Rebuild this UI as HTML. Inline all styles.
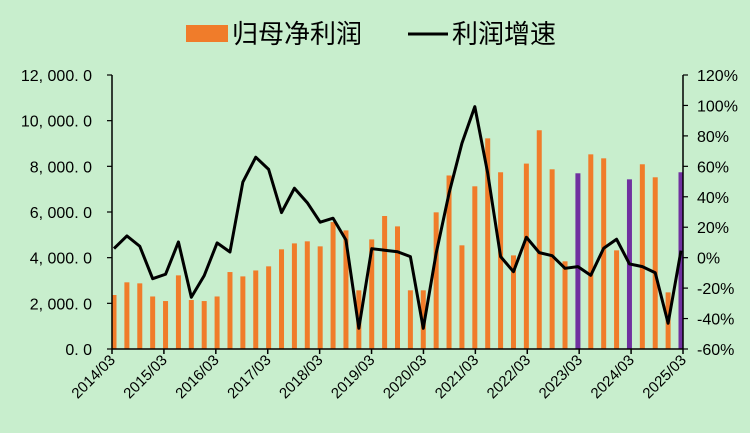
<!DOCTYPE html>
<html><head><meta charset="utf-8"><style>
body{margin:0;background:#c8eecd;}
svg{display:block;font-family:"Liberation Sans","Noto Sans CJK SC",sans-serif;}
</style></head><body>
<svg id="chart" width="750" height="433">
<rect width="750" height="433" fill="#c8eecd"/>
<g>
<rect x="186" y="25" width="42" height="17" fill="#f07c2a"/>
<text x="232" y="43" font-size="26">归母净利润</text>
<line x1="408" y1="34" x2="448" y2="34" stroke="#000" stroke-width="3"/>
<text x="452" y="43" font-size="26">利润增速</text>
</g>
<g id="bars"></g>
<g id="axes"></g>
<g id="line"></g>
</svg>
<script>
const profit=[2365,2920,2875,2300,2100,3225,2145,2100,2300,3370,3180,3440,3620,4365,4625,4715,4495,5560,5195,2570,4800,5825,5370,2570,2570,5985,7600,4540,7125,9225,7740,4100,8120,9580,7870,3840,7695,8525,8350,4320,7430,8090,7520,2480,7740];
const growth=[6,14.3,7.5,-13.8,-10.9,10.3,-26,-11.8,9.7,3.7,49.7,66,58,29.6,45.6,36.1,23.3,25.9,11.6,-46.4,5.9,4.9,3.9,0.7,-46.4,2.9,42.3,75.2,99.2,55.5,0.7,-9.2,13.4,3.3,1.3,-7,-5.9,-11.6,6.2,12.1,-4.1,-5.9,-9.9,-43.1,4.6];
const highlighted=[36,40,44];
const xLabels=["2014/03","2015/03","2016/03","2017/03","2018/03","2019/03","2020/03","2021/03","2022/03","2023/03","2024/03","2025/03"];
const leftTicks=["0. 0","2, 000. 0","4, 000. 0","6, 000. 0","8, 000. 0","10, 000. 0","12, 000. 0"];
const rightTicks=["-60%","-40%","-20%","0%","20%","40%","60%","80%","100%","120%"];
const NS="http://www.w3.org/2000/svg";
const X0=112,X1=681,YT=75,YB=349;
const step=(X1-114)/(profit.length-1);
const xq=i=>114+i*step;
const yL=v=>YB-(v/12000)*(YB-YT);
const yR=p=>YB-((p+60)/180)*(YB-YT);
function mk(tag,attrs,parent){const e=document.createElementNS(NS,tag);for(const k in attrs)e.setAttribute(k,attrs[k]);parent.appendChild(e);return e;}
const gb=document.getElementById('bars'),ga=document.getElementById('axes'),gl=document.getElementById('line');
profit.forEach((v,i)=>{
 const r=mk('rect',{x:xq(i)-2.5,y:yL(v),width:5,height:YB-yL(v),fill:highlighted.includes(i)?'#7030a0':'#f07c2a'},gb);
 
 
});
let a=mk('line',{x1:X0,y1:YT,x2:X0,y2:YB,stroke:'#000','stroke-width':1.5},ga);


a=mk('line',{x1:683,y1:YT,x2:683,y2:YB,stroke:'#000','stroke-width':1.5},ga);


a=mk('line',{x1:X0,y1:YB,x2:683,y2:YB,stroke:'#000','stroke-width':1.5},ga);


leftTicks.forEach((t,i)=>{
 const y=YB-i*(YB-YT)/6;
 mk('line',{x1:X0-5,y1:y,x2:X0,y2:y,stroke:'#000','stroke-width':1.2},ga);
 const tx=mk('text',{x:92,y:y+6,'font-size':16,'text-anchor':'end'},ga);
 tx.textContent=t;
 
 
});
rightTicks.forEach((t,i)=>{
 const y=yR(-60+i*20);
 mk('line',{x1:683,y1:y,x2:688,y2:y,stroke:'#000','stroke-width':1.2},ga);
 const tx=mk('text',{x:697,y:y+6,'font-size':16},ga);
 tx.textContent=t;
 
 
});
xLabels.forEach((t,i)=>{
 const x=X0+i*(683-X0)/11;
 mk('line',{x1:x,y1:YB,x2:x,y2:YB+5,stroke:'#000','stroke-width':1.5},ga);
 const tx=mk('text',{x:x+4,y:YB+12,'font-size':15,'text-anchor':'end',transform:`rotate(-45 ${x+4} ${YB+12})`},ga);
 tx.textContent=t;
 
 
});
const pl=mk('polyline',{points:growth.map((g,i)=>xq(i)+','+yR(g)).join(' '),fill:'none',stroke:'#000','stroke-width':3,'stroke-linejoin':'round'},gl);


</script>
</body></html>
